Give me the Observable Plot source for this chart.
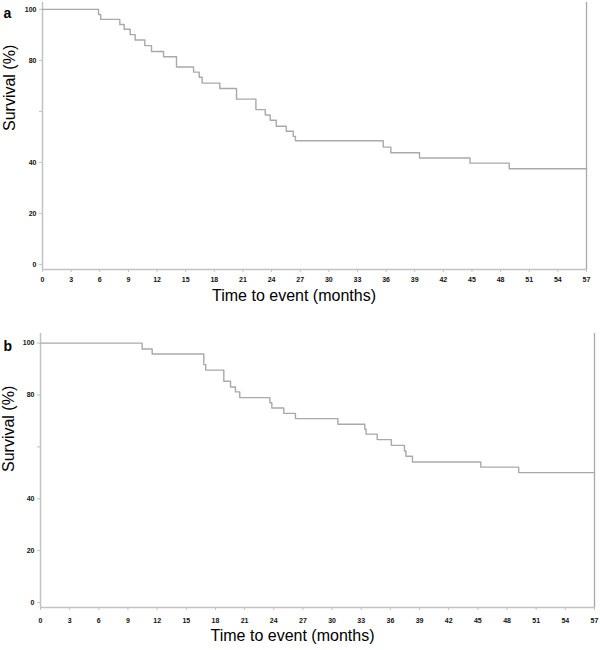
<!DOCTYPE html>
<html><head><meta charset="utf-8">
<script src="https://cdn.jsdelivr.net/npm/d3@7"></script>
<script src="https://cdn.jsdelivr.net/npm/@observablehq/plot@0.6"></script>
<style>body{margin:0;background:#fff} svg{display:block}</style>
</head><body><div id="chart"></div>
<script>
const xTicks = [0,3,6,9,12,15,18,21,24,27,30,33,36,39,42,45,48,51,54,57];
const yTicks = [0,20,40,60,80,100];
const yTickLabels = ["0","20","40","","80","100"];
const xLabel = "Time to event (months)";
const yLabel = "Survival (%)";

const aMonths = [0,5.87,6.1,8.1,8.56,9.19,9.71,10.72,11.42,12.68,14.04,15.83,16.42,16.73,18.58,20.33,22.36,23.34,23.86,24.49,25.54,26.27,26.5,35.7,36.5,39.5,44.8,48.9,57];
const aSurvival = [100,98.0,96.1,94.1,92.2,90.1,88.0,85.8,83.5,81.4,77.4,75.4,73.4,71.1,69.0,64.8,60.7,58.6,56.5,54.2,52.2,50.2,48.5,46.0,43.8,41.7,39.7,37.5,37.5];

const bMonths = [0,10.46,11.49,16.8,17.0,18.86,19.55,20.06,20.5,23.6,23.8,25.03,26.23,30.6,33.37,33.5,34.64,36.1,37.45,37.6,38.27,45.3,49.2,57];
const bSurvival = [100,97.7,95.8,91.7,89.6,85.3,83.1,81.2,79.0,77.0,75.0,72.9,70.9,68.7,66.8,64.9,62.8,60.6,58.4,56.4,54.2,52.2,50.1,50.1];

const font = "'Liberation Sans', Arial, sans-serif";
const axisGray = "#c2c2c2";
const curveGray = "#a9a9a9";

function panel(o) {
  const data = o.months.map((m, i) => ({m, s: o.survival[i]}));
  return Plot.plot({
    width: 600, height: o.height,
    marginTop: o.mt, marginBottom: o.mb, marginLeft: o.ml, marginRight: o.mr,
    style: {fontFamily: font, background: "#fff", overflow: "visible"},
    x: {domain: [0, 57]},
    y: {domain: o.yDomain},
    marks: [
      Plot.ruleX([0], {y1: o.yDomain[0], y2: o.yDomain[1], stroke: axisGray, strokeWidth: 1.5}),
      Plot.ruleY([o.yDomain[0]], {stroke: axisGray, strokeWidth: 1.5}),
      Plot.ruleX([57], {y1: o.yDomain[0], y2: o.yDomain[1], stroke: curveGray, strokeWidth: 1.3}),
      Plot.axisX({ticks: xTicks, tickSize: 3, tickPadding: o.xPad, label: null, fontSize: 7, fontWeight: "bold", stroke: axisGray, fill: "#111"}),
      Plot.axisY({ticks: yTicks, tickFormat: d => yTickLabels[yTicks.indexOf(d)], tickSize: 3, tickPadding: 3, label: null, fontSize: 7, fontWeight: "bold", stroke: axisGray, fill: "#111"}),
      Plot.line(data, {x: "m", y: "s", curve: "step-after", stroke: curveGray, strokeWidth: 1.4}),
      Plot.text([o.letter], {frameAnchor: "top-left", dx: o.letterDx, dy: o.letterDy, fontSize: 14, fontWeight: "bold", textAnchor: "start", fill: "#000"}),
      Plot.text([xLabel], {frameAnchor: "bottom", dx: o.xlDx, dy: o.xlDy, fontSize: 16, fill: "#000"}),
      Plot.text([yLabel], {frameAnchor: "left", rotate: -90, dx: o.ylDx, dy: o.ylDy, fontSize: 16, fill: "#000"})
    ]
  });
}

const el = document.getElementById("chart");
el.append(panel({
  letter: "a", months: aMonths, survival: aSurvival,
  height: 325, mt: 2, mb: 56, ml: 42, mr: 14, yDomain: [-2, 102.7], xPad: 5,
  letterDx: -39, letterDy: 5.5, xlDx: -20.5, xlDy: 31.5, ylDx: -32.5, ylDy: -5
}));
el.append(panel({
  letter: "b", months: bMonths, survival: bSurvival,
  height: 325, mt: 8, mb: 43, ml: 40, mr: 6, yDomain: [-1.9, 103.7], xPad: 7.5,
  letterDx: -37, letterDy: 7.5, xlDx: -25, xlDy: 33.5, ylDx: -32, ylDy: 1.5
}));
</script></body></html>
